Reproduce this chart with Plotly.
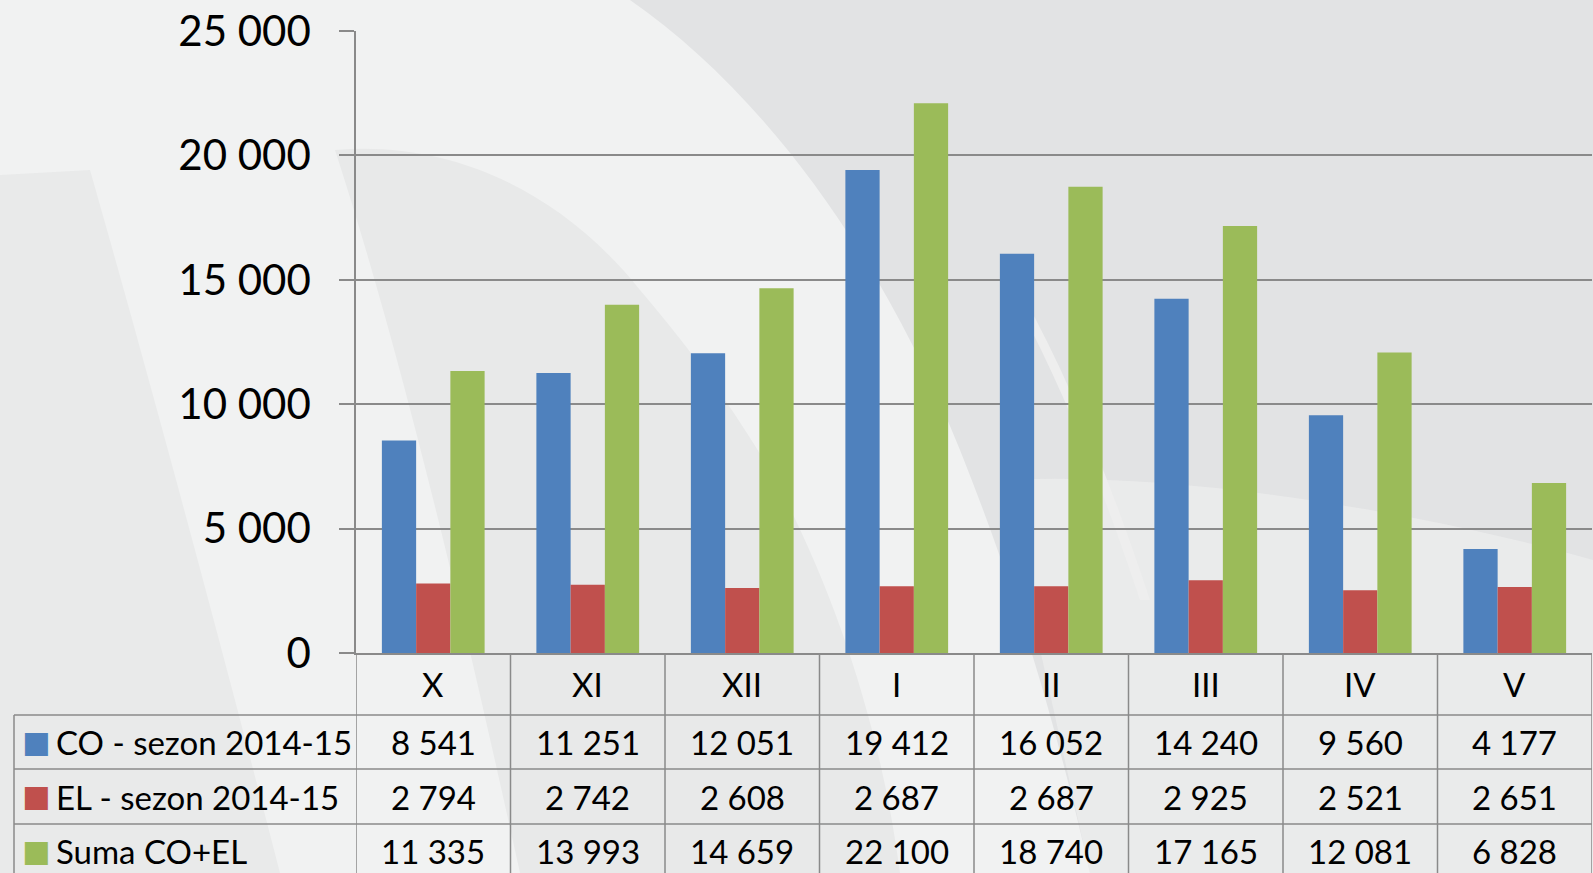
import plotly.graph_objects as go

# ---------------- data ----------------
months = ["X", "XI", "XII", "I", "II", "III", "IV", "V"]
co_2014_15 = [8541, 11251, 12051, 19412, 16052, 14240, 9560, 4177]
el_2014_15 = [2794, 2742, 2608, 2687, 2687, 2925, 2521, 2651]
suma_co_el = [11335, 13993, 14659, 22100, 18740, 17165, 12081, 6828]
series_names = ["CO - sezon 2014-15", "EL - sezon 2014-15", "Suma CO+EL"]
series_colors = ["#4F81BD", "#C0504D", "#9BBB59"]
y_tickvals = [0, 5000, 10000, 15000, 20000, 25000]
y_ticktext = ["0", "5 000", "10 000", "15 000", "20 000", "25 000"]

# ---------------- layout geometry (pixels) ----------------
W, H = 1593, 873
L, R, T, B = 356, 1592, 31, 653
PW, PH = R - L, B - T
FONT = "Lato, 'Open Sans', sans-serif"
GRID = "#8a8a8a"


def xp(px):
    return (px - L) / PW


def yp(py):
    return (B - py) / PH


def fmt(v):
    return f"{v:,}".replace(",", " ")


series_values = [co_2014_15, el_2014_15, suma_co_el]

fig = go.Figure()
for name, vals, col in zip(series_names, series_values, series_colors):
    fig.add_trace(go.Bar(x=months, y=vals, name=name, marker_color=col,
                         marker_line_width=0, showlegend=False))

shapes = []


def path(points_cmds):
    out = []
    for cmd, pts in points_cmds:
        out.append(cmd + " ".join(f"{xp(a):.5f},{yp(b):.5f}" for a, b in pts))
    return " ".join(out) + " Z"


bg_shapes = [
    # dark top-right swoosh
    ("#e2e3e4", [("M", [(630, 0)]), ("C", [(760, 90), (880, 250), (960, 450)]),
                 ("C", [(1020, 600), (1060, 740), (1090, 873)]),
                 ("L", [(W, 873)]), ("L", [(W, 0)])]),
    # lighten lower right
    ("rgba(245,245,245,0.45)", [("M", [(1000, 480)]), ("C", [(1200, 470), (1450, 520), (W, 560)]),
                                ("L", [(W, 873)]), ("L", [(1090, 873)]),
                                ("C", [(1060, 740), (1030, 600), (1000, 480)])]),
    # light streak
    ("#eeeeee", [("M", [(1010, 290)]), ("C", [(1060, 380), (1100, 480), (1140, 600)]),
                 ("L", [(1150, 600)]), ("C", [(1110, 480), (1070, 380), (1020, 290)])]),
    # left dark strip
    ("#e9eaea", [("M", [(0, 175)]), ("L", [(90, 170)]), ("C", [(150, 380), (220, 640), (280, 873)]),
                 ("L", [(0, 873)])]),
    # middle dark band
    ("#e8e9e9", [("M", [(335, 150)]), ("C", [(450, 140), (560, 190), (640, 290)]),
                 ("C", [(700, 360), (740, 420), (770, 470)]),
                 ("C", [(830, 580), (880, 720), (900, 873)]),
                 ("L", [(520, 873)]), ("C", [(460, 600), (400, 350), (335, 150)])]),
]
for col, cmds in bg_shapes:
    shapes.append(dict(type="path", xref="paper", yref="paper", path=path(cmds),
                       fillcolor=col, line=dict(width=0), layer="below"))

# ---- table grid ----
row_lines_px = [715, 769, 824]
table_left_px = 14
for ry in row_lines_px:
    shapes.append(dict(type="line", xref="paper", yref="paper",
                       x0=xp(table_left_px), x1=1.0, y0=yp(ry), y1=yp(ry),
                       line=dict(color=GRID, width=1.5)))
shapes.append(dict(type="line", xref="paper", yref="paper",
                   x0=xp(table_left_px), x1=xp(table_left_px), y0=yp(715), y1=yp(880),
                   line=dict(color=GRID, width=1.5)))
for i in range(len(months) + 1):
    shapes.append(dict(type="line", xref="x", yref="paper",
                       x0=i - 0.5, x1=i - 0.5, y0=0, y1=yp(880),
                       line=dict(color=GRID, width=1.5)))

annotations = []
row_centers_px = [742, 796.5, 851]
cat_center_px = 684
for i, m in enumerate(months):
    annotations.append(dict(x=i, y=yp(cat_center_px), xref="x", yref="paper", text=m,
                            showarrow=False, xanchor="center", yanchor="middle",
                            font=dict(family=FONT, size=33, color="black")))
    for r, vals in enumerate(series_values):
        annotations.append(dict(x=i, y=yp(row_centers_px[r]), xref="x", yref="paper",
                                text=fmt(vals[i]), showarrow=False,
                                xanchor="center", yanchor="middle",
                                font=dict(family=FONT, size=33, color="black")))
for r, (name, col) in enumerate(zip(series_names, series_colors)):
    annotations.append(dict(x=xp(20), y=yp(row_centers_px[r] - 1), xref="paper", yref="paper",
                            text="■", showarrow=False, xanchor="left", yanchor="middle",
                            font=dict(family="DejaVu Sans", size=30, color=col)))
    annotations.append(dict(x=xp(54), y=yp(row_centers_px[r]), xref="paper", yref="paper",
                            text=name, showarrow=False, xanchor="left", yanchor="middle",
                            font=dict(family=FONT, size=33, color="black")))

fig.update_layout(
    width=W, height=H,
    margin=dict(l=L, r=W - R, t=T, b=H - B, pad=0),
    paper_bgcolor="#f1f2f2",
    plot_bgcolor="rgba(0,0,0,0)",
    barmode="group", bargap=0.335, bargroupgap=0,
    shapes=shapes, annotations=annotations,
    showlegend=False,
    xaxis=dict(range=[-0.5, 7.5], showticklabels=False, ticks="", showgrid=False,
               showline=True, linecolor=GRID, linewidth=1.5, zeroline=False, fixedrange=True),
    yaxis=dict(range=[0, 25000], tickvals=y_tickvals, ticktext=y_ticktext,
               showgrid=True, gridcolor=GRID, gridwidth=1.5,
               showline=True, linecolor=GRID, linewidth=1.5,
               ticks="outside", ticklen=15, tickcolor=GRID, tickwidth=1.5,
               ticklabelstandoff=20, zeroline=False,
               tickfont=dict(family=FONT, size=42, color="black")),
)

fig.write_html(
    "out.html",
    config={"displayModeBar": False},
    post_script="document.body.style.margin='0';document.body.style.overflow='hidden';"
                "window.dispatchEvent(new Event('resize'));",
)
